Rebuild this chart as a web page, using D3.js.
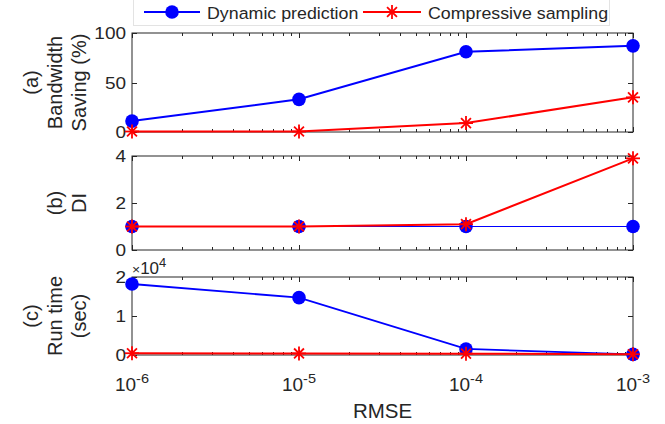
<!DOCTYPE html>
<html lang="en">
  <head>
    <meta charset="UTF-8" />
    <title>RMSE comparison</title>
    <script src="https://d3js.org/d3.v7.min.js"></script>
    <style>
      body { margin: 0; background: #fff; }
      text { font-family: "Liberation Sans", Arial, Helvetica, sans-serif; fill: #262626; }
    </style>
  </head>
  <body>
    <svg width="665" height="424"></svg>
    <script>
      // data
      const rmse = [1e-6, 1e-5, 1e-4, 1e-3];
      const xTicks = [1e-6, 1e-5, 1e-4, 1e-3];
      const xTickExp = ["-6", "-5", "-4", "-3"];
      const seriesNames = ["Dynamic prediction", "Compressive sampling"];
      const bwDynamic = [11, 33, 81, 87];
      const bwCompressive = [0.5, 0.5, 9, 35];
      const diDynamic = [1, 1, 1, 1];
      const diCompressive = [1, 1, 1.1, 3.9];
      const rtDynamic = [18200, 14700, 1550, 150];
      const rtCompressive = [450, 400, 350, 200];

      const panels = [
        { label: ["(a)", "Bandwidth", "Saving (%)"], top: 33, bottom: 132, domain: [0, 100], ticks: [0, 50, 100], fmt: d => d, dyn: bwDynamic, comp: bwCompressive, dynW: 2 },
        { label: ["(b)", "DI"], top: 156, bottom: 250, domain: [0, 4], ticks: [0, 2, 4], fmt: d => d, dyn: diDynamic, comp: diCompressive, dynW: 1.2 },
        { label: ["(c)", "Run time", "(sec)"], top: 277, bottom: 355, domain: [0, 20000], ticks: [0, 10000, 20000], fmt: d => d / 1e4, dyn: rtDynamic, comp: rtCompressive, dynW: 1.8 }
      ];

      const svg = d3.select("svg");
      const left = 132, right = 633;
      const axisCol = "#262626";
      const x = d3.scaleLog().domain([1e-6, 1e-3]).range([left, right]);

      // minor ticks 2..9 in each decade
      const minor = [];
      [1e-6, 1e-5, 1e-4].forEach(d => { for (let k = 2; k <= 9; k++) minor.push(d * k); });

      // horizontal text, glyphs a little flatter than normal (as in the picture)
      function htext(g, tx, ty, size, anchor, sy) {
        return g.append("text")
          .attr("transform", `translate(${tx},${ty}) scale(1,${sy})`)
          .attr("text-anchor", anchor).attr("font-size", size);
      }

      function star(g, cx, cy, r, col) {
        const s = r * Math.SQRT1_2;
        const segs = [[-r, 0, r, 0], [0, -r, 0, r], [-s, -s, s, s], [-s, s, s, -s]];
        segs.forEach(p => g.append("line")
          .attr("x1", cx + p[0]).attr("y1", cy + p[1]).attr("x2", cx + p[2]).attr("y2", cy + p[3])
          .attr("stroke", col).attr("stroke-width", 1.8));
      }

      panels.forEach((p, i) => {
        const y = d3.scaleLinear().domain(p.domain).range([p.bottom, p.top]);
        const g = svg.append("g");

        // box
        g.append("rect").attr("x", left).attr("y", p.top)
          .attr("width", right - left).attr("height", p.bottom - p.top)
          .attr("fill", "none").attr("stroke", axisCol).attr("stroke-width", 1);

        // x ticks, top and bottom, inward
        xTicks.concat(minor).forEach((d, j) => {
          const len = j < xTicks.length ? 5 : 3;
          const xx = Math.round(x(d)) + 0.5;
          g.append("line").attr("x1", xx).attr("x2", xx).attr("y1", p.bottom).attr("y2", p.bottom - len).attr("stroke", axisCol);
          g.append("line").attr("x1", xx).attr("x2", xx).attr("y1", p.top).attr("y2", p.top + len).attr("stroke", axisCol);
        });

        // y ticks, left and right, inward
        p.ticks.forEach(t => {
          const yy = Math.round(y(t)) + 0.5;
          g.append("line").attr("x1", left).attr("x2", left + 5).attr("y1", yy).attr("y2", yy).attr("stroke", axisCol);
          g.append("line").attr("x1", right).attr("x2", right - 5).attr("y1", yy).attr("y2", yy).attr("stroke", axisCol);
          htext(g, left - 6, y(t) + 6.2, 19, "end", 0.9).text(p.fmt(t));
        });

        // y label, several lines, rotated
        const n = p.label.length;
        p.label.forEach((s, k) => {
          const cx = 79 - (n - 1 - k) * 24;
          g.append("text").attr("transform", `translate(${cx},${(p.top + p.bottom) / 2}) rotate(-90)`)
            .attr("text-anchor", "middle").attr("dy", "0.35em").attr("font-size", 20).text(s);
        });

        const line = d3.line().x((d, j) => x(rmse[j])).y(d => y(d));

        // Dynamic prediction
        g.append("path").datum(p.dyn).attr("d", line).attr("fill", "none")
          .attr("stroke", "#0000ff").attr("stroke-width", p.dynW);
        g.selectAll("circle.dyn").data(p.dyn).enter().append("circle")
          .attr("cx", (d, j) => x(rmse[j])).attr("cy", d => y(d)).attr("r", 6.8).attr("fill", "#0000ff");

        // Compressive sampling
        g.append("path").datum(p.comp).attr("d", line).attr("fill", "none")
          .attr("stroke", "#ff0000").attr("stroke-width", 2);
        p.comp.forEach((d, j) => star(g, x(rmse[j]), y(d), 7, "#ff0000"));

        if (i === 2) {
          // exponent label
          const t = htext(g, left, p.top - 3, 17, "start", 0.95);
          t.append("tspan").attr("font-size", 14).text("\u00d7");
          t.append("tspan").text("10");
          t.append("tspan").attr("dy", -7).attr("font-size", 13).text("4");

          // x tick labels
          xTicks.forEach((d, j) => {
            const tl = htext(g, x(d), 391, 19, "middle", 0.92);
            tl.append("tspan").text("10");
            tl.append("tspan").attr("dy", -9).attr("font-size", 14.5).text(xTickExp[j]);
          });

          htext(g, (left + right) / 2, 418, 20.5, "middle", 0.95).text("RMSE");
        }
      });

      // legend
      const lg = svg.append("g");
      lg.append("rect").attr("x", 133.5).attr("y", -5).attr("width", 476).attr("height", 30.5)
        .attr("fill", "#fff").attr("stroke", "#e3e3e3").attr("stroke-width", 1);
      lg.append("line").attr("x1", 144).attr("x2", 200).attr("y1", 12).attr("y2", 12)
        .attr("stroke", "#0000ff").attr("stroke-width", 2);
      lg.append("circle").attr("cx", 172).attr("cy", 12).attr("r", 6.8).attr("fill", "#0000ff");
      htext(lg, 207, 18.5, 17.8, "start", 0.95).text(seriesNames[0]);
      lg.append("line").attr("x1", 363).attr("x2", 421).attr("y1", 12).attr("y2", 12)
        .attr("stroke", "#ff0000").attr("stroke-width", 2);
      star(lg, 392, 12, 7, "#ff0000");
      htext(lg, 428, 18.5, 17.8, "start", 0.95).text(seriesNames[1]);
    </script>
  </body>
</html>
